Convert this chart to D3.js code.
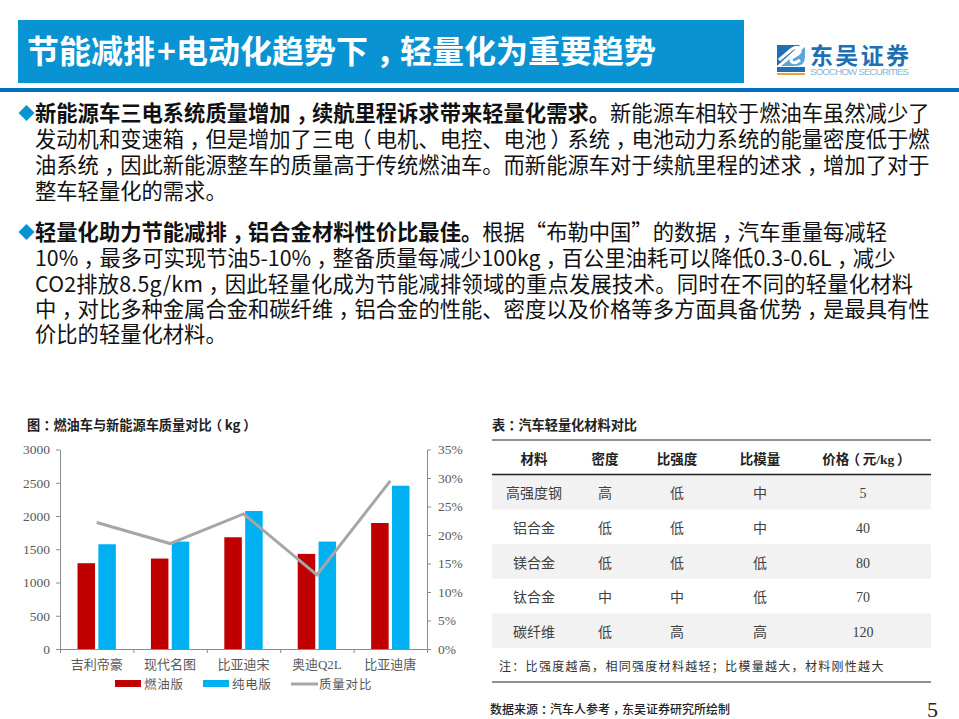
<!DOCTYPE html>
<html>
<head>
<meta charset="utf-8">
<script src="https://cdn.jsdelivr.net/npm/d3@7"></script>
<style>
  html, body { margin: 0; padding: 0; background: #fff; }
  svg { display: block; }
  text { font-family: "Noto Sans CJK SC", sans-serif; }
  .num text, .serif { font-family: "Liberation Serif", "Noto Sans CJK SC", serif; }
  .halt { font-feature-settings: "halt"; }
</style>
</head>
<body>
<svg id="page" width="959" height="719"></svg>
<script>
// 图表数据
const cars = ['吉利帝豪', '现代名图', '比亚迪宋', '奥迪Q2L', '比亚迪唐'];
const fuelMass = [1290, 1360, 1680, 1430, 1895];
const evMass = [1575, 1615, 2075, 1615, 2455];
const massRatio = [0.222, 0.185, 0.237, 0.13, 0.295];
const massTicks = [0, 500, 1000, 1500, 2000, 2500, 3000];
const ratioTicks = [0, 0.05, 0.1, 0.15, 0.2, 0.25, 0.3, 0.35];
const legendNames = ['燃油版', '纯电版', '质量对比'];

// 表格数据
const tableHead = ['材料', '密度', '比强度', '比模量', '价格（元/kg）'];
const materials = ['高强度钢', '铝合金', '镁合金', '钛合金', '碳纤维'];
const density = ['高', '低', '低', '中', '低'];
const strength = ['低', '低', '低', '中', '高'];
const modulus = ['中', '中', '低', '低', '高'];
const price = [5, 40, 80, 70, 120];

// 文字
const titleHead = '节能减排';
const titleTail = '电动化趋势下，轻量化为重要趋势';
const para1Bold = '新能源车三电系统质量增加，续航里程诉求带来轻量化需求。';
const para1 = [
  '新能源车相较于燃油车虽然减少了',
  '发动机和变速箱，但是增加了三电（电机、电控、电池）系统，电池动力系统的能量密度低于燃',
  '油系统，因此新能源整车的质量高于传统燃油车。而新能源车对于续航里程的述求，增加了对于',
  '整车轻量化的需求。'
];
const para2Bold = '轻量化助力节能减排，铝合金材料性价比最佳。';
const para2 = [
  '根据“布勒中国”的数据，汽车重量每减轻',
  '10%，最多可实现节油5-10%，整备质量每减少100kg，百公里油耗可以降低0.3-0.6L，减少',
  'CO2排放8.5g/km，因此轻量化成为节能减排领域的重点发展技术。同时在不同的轻量化材料',
  '中，对比多种金属合金和碳纤维，铝合金的性能、密度以及价格等多方面具备优势，是最具有性',
  '价比的轻量化材料。'
];

const svg = d3.select('#page');
const RED = '#c00000', BLUE = '#00b0f0', GREY = '#a6a6a6', TEAL = '#0993d3';

// 原图的全角标点居中：半宽字形 + 左右补空
const punctPad = { '，': [0.25, 0.25], '：': [0.25, 0.25], '（': [0.3, 0.2], '）': [0.2, 0.3] };
function addRuns(t, str, size) {
  let carry = 0;
  str.split(/([，：（）])/).filter(Boolean).forEach(run => {
    const pad = punctPad[run];
    const span = t.append('tspan').text(run);
    span.attr('dx', (carry + (pad ? pad[0] : 0)) * size);
    if (pad) span.attr('class', 'halt');
    carry = pad ? pad[1] : 0;
  });
  return t;
}

// 标题栏
svg.append('rect').attr('x', 18).attr('y', 20).attr('width', 726).attr('height', 63).attr('fill', TEAL);
svg.append('rect').attr('x', 0).attr('y', 88).attr('width', 959).attr('height', 4).attr('fill', '#0070c0');
const title = svg.append('text').attr('x', 27).attr('y', 63).attr('fill', '#fff')
  .attr('font-size', 32).attr('font-weight', 700);
title.append('tspan').text(titleHead);
title.append('tspan').attr('dx', 2).text('+');
addRuns(title.append('tspan').attr('dx', 2), titleTail, 32);

// Logo
const logo = svg.append('g');
logo.append('path').attr('d', 'M777 45 H800 L777 66 Z').attr('fill', '#1f6fb5');
logo.append('path').attr('d', 'M805 47 V57 Q805 66 795 66 H781 Z').attr('fill', '#5aa5dc');
logo.append('path').attr('d', 'M779 60 L792 49 Q798 45 800 50 Q801 53 795 56 Q789 59 792 62 Q795 64 800 60')
  .attr('fill', 'none').attr('stroke', '#fff').attr('stroke-width', 3);
logo.append('rect').attr('x', 777).attr('y', 67).attr('width', 28).attr('height', 5).attr('fill', '#1f6fb5');
logo.append('rect').attr('x', 777).attr('y', 73).attr('width', 28).attr('height', 2).attr('fill', '#f0a030');
logo.append('text').attr('x', 810).attr('y', 64).attr('font-size', 23).attr('font-weight', 700)
  .attr('fill', '#1f6fb5').attr('textLength', 99).text('东吴证券');
logo.append('text').attr('x', 810).attr('y', 74.5).attr('font-size', 9.7).attr('fill', '#7fb8e0')
  .attr('textLength', 99).style('font-family', '"Liberation Sans"')
  .text('SOOCHOW SECURITIES');

// 正文
function paragraph(bold, lines, y0, lineYs, spacing) {
  svg.append('path').attr('d', d3.symbol(d3.symbolSquare, 128))
    .attr('transform', `translate(26.5,${y0 - 8}) rotate(45)`).attr('fill', TEAL);
  lines.forEach((line, i) => {
    const t = svg.append('text').attr('x', 35).attr('y', y0 + lineYs[i])
      .attr('font-size', 21.3).attr('letter-spacing', spacing[i]).attr('fill', '#111');
    if (i === 0) addRuns(t.append('tspan').attr('font-weight', 700), bold, 21.3);
    addRuns(t.append('tspan'), line, 21.3);
  });
}
paragraph(para1Bold, para1, 121, [0, 26, 52, 78], [0, 0, 0, 0]);
paragraph(para2Bold, para2, 240, [0, 26, 52, 77, 102], [0, 0, 0.22, 0, 0]);

// 左图
addRuns(svg.append('text').attr('x', 27).attr('y', 430).attr('font-size', 13.2).attr('font-weight', 700)
  .attr('fill', '#222'), '图：燃油车与新能源车质量对比（kg）', 13.2);

const plotLeft = 60, plotRight = 427, plotTop = 449.5, plotBottom = 649;
const x = d3.scaleBand().domain(cars).range([plotLeft, plotRight]);
const xInner = d3.scaleBand().domain(['fuel', 'ev']).range([0, x.bandwidth()])
  .paddingInner(0.16).paddingOuter(0.84);
const yMass = d3.scaleLinear().domain([0, 3000]).range([plotBottom, plotTop]);
const yRatio = d3.scaleLinear().domain([0, 0.35]).range([plotBottom, plotTop]);

const bars = svg.append('g');
bars.selectAll('.fuel').data(fuelMass).enter().append('rect')
  .attr('class', 'fuel')
  .attr('x', (d, i) => x(cars[i]) + xInner('fuel'))
  .attr('y', d => yMass(d))
  .attr('width', xInner.bandwidth())
  .attr('height', d => plotBottom - yMass(d))
  .attr('fill', RED);
bars.selectAll('.ev').data(evMass).enter().append('rect')
  .attr('class', 'ev')
  .attr('x', (d, i) => x(cars[i]) + xInner('ev'))
  .attr('y', d => yMass(d))
  .attr('width', xInner.bandwidth())
  .attr('height', d => plotBottom - yMass(d))
  .attr('fill', BLUE);

const ratioLine = d3.line()
  .x((d, i) => x(cars[i]) + x.bandwidth() / 2)
  .y(d => yRatio(d));
svg.append('path').datum(massRatio).attr('d', ratioLine)
  .attr('fill', 'none').attr('stroke', GREY).attr('stroke-width', 3);

function styleAxis(g) {
  g.selectAll('path, line').attr('stroke', '#8c8c8c');
  g.selectAll('text').attr('fill', '#595959').attr('font-size', 13.5);
}
svg.append('g').attr('class', 'num').attr('transform', `translate(${plotLeft},0)`)
  .call(d3.axisLeft(yMass).tickValues(massTicks).tickFormat(d3.format('d')).tickSize(4).tickSizeOuter(0).tickPadding(6))
  .call(styleAxis);
svg.append('g').attr('class', 'num').attr('transform', `translate(${plotRight},0)`)
  .call(d3.axisRight(yRatio).tickValues(ratioTicks).tickFormat(d3.format('.0%')).tickSize(4).tickSizeOuter(0).tickPadding(7))
  .call(styleAxis);

// x 轴：刻度在类别边界
const xEdges = d3.scaleLinear().domain([0, cars.length]).range([plotLeft, plotRight]);
svg.append('g').attr('transform', `translate(0,${plotBottom})`)
  .call(d3.axisBottom(xEdges).tickValues(d3.range(cars.length + 1)).tickFormat('').tickSize(4).tickSizeOuter(0))
  .call(styleAxis);
svg.append('g').attr('class', 'num').attr('transform', `translate(0,${plotBottom})`)
  .call(d3.axisBottom(x).tickSize(0).tickPadding(11))
  .call(g => g.select('.domain').remove())
  .call(g => g.selectAll('text').attr('fill', '#595959').attr('font-size', 13));

// 图例
const legend = svg.append('g');
legend.append('rect').attr('x', 115).attr('y', 680).attr('width', 26).attr('height', 7).attr('fill', RED);
legend.append('rect').attr('x', 203).attr('y', 680).attr('width', 26).attr('height', 7).attr('fill', BLUE);
legend.append('line').attr('x1', 291).attr('x2', 318).attr('y1', 684).attr('y2', 684)
  .attr('stroke', GREY).attr('stroke-width', 3);
legend.selectAll('text').data(legendNames).enter().append('text')
  .attr('x', (d, i) => [144, 232, 319][i])
  .attr('y', 689)
  .attr('font-size', 12.5)
  .attr('letter-spacing', 0.8)
  .attr('fill', '#595959')
  .text(d => d);

// 右表
addRuns(svg.append('text').attr('x', 492).attr('y', 430).attr('font-size', 13.2).attr('font-weight', 700)
  .attr('fill', '#222'), '表：汽车轻量化材料对比', 13.2);

const tLeft = 492, tRight = 931;
const rowY = d3.scaleBand().domain(materials).range([475, 648]);
const colX = d3.scaleOrdinal().domain(tableHead).range([534, 605, 677, 760, 863]);

svg.selectAll('.stripe').data(materials.filter((d, i) => i % 2 === 0)).enter().append('rect')
  .attr('class', 'stripe')
  .attr('x', tLeft).attr('width', tRight - tLeft)
  .attr('y', d => rowY(d)).attr('height', rowY.bandwidth())
  .attr('fill', '#f2f2f2');

[[440, 1], [474.5, 1.5], [682, 1]].forEach(([y, w]) => {
  svg.append('line').attr('x1', tLeft).attr('x2', tRight).attr('y1', y).attr('y2', y)
    .attr('stroke', '#222').attr('stroke-width', w);
});

svg.selectAll('.head').data(tableHead).enter().append('text')
  .attr('class', 'head serif')
  .attr('x', d => colX(d))
  .attr('y', 464)
  .attr('text-anchor', 'middle')
  .attr('font-size', 13.5)
  .attr('font-weight', 700)
  .attr('fill', '#222')
  .each(function (d) { addRuns(d3.select(this), d, 13.5); });

const columns = [materials, density, strength, modulus, price];
columns.forEach((col, c) => {
  svg.selectAll('.col' + c).data(col).enter().append('text')
    .attr('class', 'col' + c + ' serif')
    .attr('x', colX(tableHead[c]))
    .attr('y', (d, i) => rowY(materials[i]) + rowY.bandwidth() / 2 + 6)
    .attr('text-anchor', 'middle')
    .attr('font-size', 14)
    .attr('fill', '#404040')
    .text(d => d);
});

svg.append('text').attr('x', 499).attr('y', 671).attr('font-size', 12)
  .attr('letter-spacing', 1.3).attr('fill', '#333')
  .text('注：比强度越高，相同强度材料越轻；比模量越大，材料刚性越大');

// 页脚
addRuns(svg.append('text').attr('x', 490).attr('y', 714).attr('font-size', 12).attr('fill', '#222')
  .attr('font-weight', 500), '数据来源：汽车人参考，东吴证券研究所绘制', 12);
svg.append('text').attr('class', 'serif').attr('x', 927).attr('y', 717).attr('font-size', 22)
  .attr('fill', '#222').text('5');
</script>
</body>
</html>
